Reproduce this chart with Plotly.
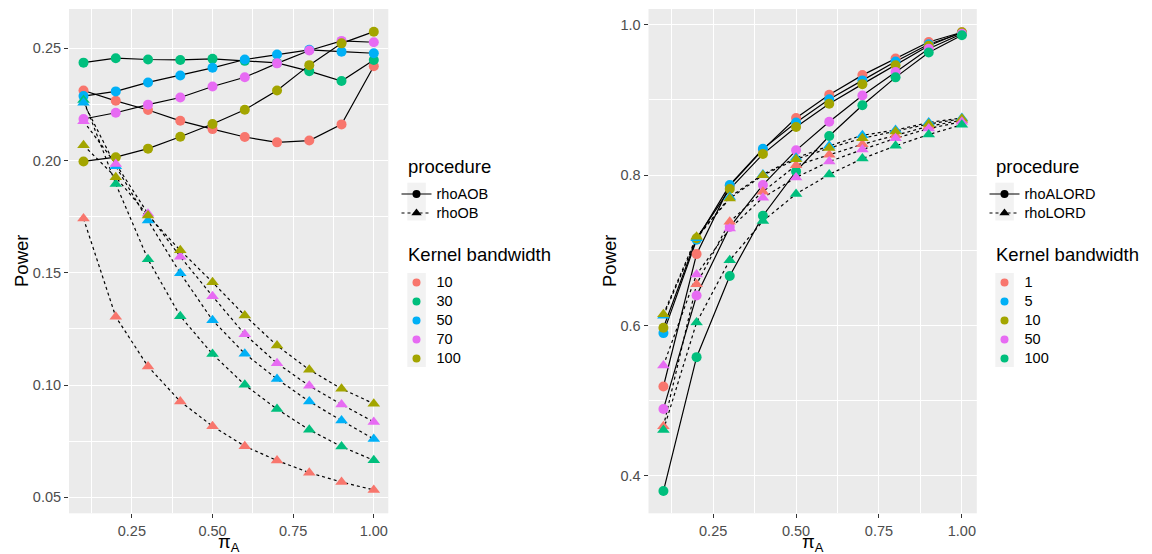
import plotly.graph_objects as go

W, H = 1152, 554

pi_a = [0.1, 0.2, 0.3, 0.4, 0.5, 0.6, 0.7, 0.8, 0.9, 1.0]

# Left panel: Kernel bandwidth 10, 30, 50, 70, 100
left_bw = ["10", "30", "50", "70", "100"]
left_colors = ["#F8766D", "#00BF7D", "#00B0F6", "#E76BF3", "#A3A500"]
rhoAOB = {
    "10":  [0.2312, 0.2266, 0.2225, 0.2177, 0.2140, 0.2105, 0.2081, 0.2089, 0.2161, 0.2420],
    "30":  [0.2436, 0.2456, 0.2450, 0.2448, 0.2453, 0.2444, 0.2435, 0.2398, 0.2354, 0.2448],
    "50":  [0.2287, 0.2308, 0.2348, 0.2379, 0.2413, 0.2450, 0.2472, 0.2493, 0.2485, 0.2478],
    "70":  [0.2185, 0.2213, 0.2249, 0.2281, 0.2330, 0.2371, 0.2433, 0.2490, 0.2533, 0.2527],
    "100": [0.1996, 0.2015, 0.2053, 0.2106, 0.2163, 0.2226, 0.2312, 0.2425, 0.2522, 0.2574],
}
rhoOB = {
    "10":  [0.1742, 0.1304, 0.1083, 0.0927, 0.0817, 0.0728, 0.0664, 0.0610, 0.0568, 0.0533],
    "30":  [0.2270, 0.1896, 0.1560, 0.1307, 0.1138, 0.1001, 0.0893, 0.0801, 0.0726, 0.0665],
    "50":  [0.2258, 0.1975, 0.1733, 0.1498, 0.1289, 0.1140, 0.1027, 0.0927, 0.0842, 0.0760],
    "70":  [0.2175, 0.1985, 0.1763, 0.1572, 0.1396, 0.1226, 0.1097, 0.0997, 0.0914, 0.0836],
    "100": [0.2068, 0.1926, 0.1755, 0.1600, 0.1458, 0.1310, 0.1176, 0.1068, 0.0984, 0.0917],
}

# Right panel: Kernel bandwidth 1, 5, 10, 50, 100
right_bw = ["1", "5", "10", "50", "100"]
right_colors = ["#F8766D", "#00B0F6", "#A3A500", "#E76BF3", "#00BF7D"]
rhoALORD = {
    "1":   [0.519, 0.695, 0.786, 0.834, 0.876, 0.907, 0.933, 0.955, 0.977, 0.990],
    "5":   [0.590, 0.714, 0.787, 0.835, 0.870, 0.901, 0.926, 0.951, 0.974, 0.989],
    "10":  [0.597, 0.716, 0.7815, 0.828, 0.864, 0.895, 0.921, 0.946, 0.972, 0.990],
    "50":  [0.489, 0.640, 0.731, 0.787, 0.833, 0.871, 0.906, 0.937, 0.968, 0.988],
    "100": [0.380, 0.558, 0.666, 0.746, 0.805, 0.852, 0.893, 0.930, 0.963, 0.986],
}
rhoLORD = {
    "1":   [0.466, 0.655, 0.738, 0.778, 0.813, 0.827, 0.841, 0.853, 0.865, 0.873],
    "5":   [0.613, 0.716, 0.771, 0.801, 0.823, 0.839, 0.853, 0.860, 0.870, 0.876],
    "10":  [0.615, 0.718, 0.769, 0.800, 0.821, 0.836, 0.849, 0.858, 0.868, 0.875],
    "50":  [0.547, 0.668, 0.729, 0.770, 0.797, 0.818, 0.834, 0.849, 0.862, 0.871],
    "100": [0.461, 0.604, 0.687, 0.739, 0.775, 0.801, 0.822, 0.839, 0.854, 0.867],
}

FONT = "Liberation Sans, Arial, sans-serif"
TICK_FS = 14.5
TITLE_FS = 18.5
LEG_FS = 14.5

fig = go.Figure()


def add_panel(xa, ya, bws, colors, solid, dotted):
    # lines first (ggplot geom_line), then points on top
    for bw in bws:
        fig.add_trace(go.Scatter(x=pi_a, y=solid[bw], mode="lines", xaxis=xa, yaxis=ya,
                                 line=dict(color="black", width=1.2), showlegend=False,
                                 hoverinfo="skip"))
        fig.add_trace(go.Scatter(x=pi_a, y=dotted[bw], mode="lines", xaxis=xa, yaxis=ya,
                                 line=dict(color="black", width=1.2, dash="dot"), showlegend=False,
                                 hoverinfo="skip"))
    for bw, c in zip(bws, colors):
        fig.add_trace(go.Scatter(x=pi_a, y=solid[bw], mode="markers", xaxis=xa, yaxis=ya,
                                 marker=dict(color=c, size=10, symbol="circle", line=dict(width=0)),
                                 showlegend=False, name=bw))
    for bw, c in zip(bws, colors):
        fig.add_trace(go.Scatter(x=pi_a, y=dotted[bw], mode="markers", xaxis=xa, yaxis=ya,
                                 marker=dict(color=c, size=11, symbol="triangle-up", line=dict(width=0)),
                                 showlegend=False, name=bw))


add_panel("x", "y", left_bw, left_colors, rhoAOB, rhoOB)
add_panel("x2", "y2", right_bw, right_colors, rhoALORD, rhoLORD)


def span(t):
    return '<span style="font-size:%gpx">%s</span>' % (LEG_FS, t)


def add_legends(proc_names, bws, colors, leg_proc, leg_kern):
    fig.add_trace(go.Scatter(x=[None], y=[None], mode="lines+markers", name=span(proc_names[0]),
                             line=dict(color="black", width=1.2),
                             marker=dict(color="black", size=8, symbol="circle"),
                             legend=leg_proc, showlegend=True))
    fig.add_trace(go.Scatter(x=[None], y=[None], mode="lines+markers", name=span(proc_names[1]),
                             line=dict(color="black", width=1.2, dash="dot"),
                             marker=dict(color="black", size=9, symbol="triangle-up"),
                             legend=leg_proc, showlegend=True))
    order = sorted(range(len(bws)), key=lambda i: float(bws[i]))
    for i in order:
        fig.add_trace(go.Scatter(x=[None], y=[None], mode="markers", name=span(bws[i]),
                                 marker=dict(color=colors[i], size=8, symbol="circle"),
                                 legend=leg_kern, showlegend=True))


add_legends(["rhoAOB", "rhoOB"], left_bw, left_colors, "legend", "legend2")
add_legends(["rhoALORD", "rhoLORD"], right_bw, right_colors, "legend3", "legend4")

axis_common = dict(
    showgrid=True, gridcolor="white", gridwidth=1.1,
    zeroline=False, showline=False,
    ticks="outside", ticklen=4, tickwidth=1.1, tickcolor="#333333",
    tickfont=dict(family=FONT, size=TICK_FS, color="#4D4D4D"),
)

xrange = [0.055, 1.045]
xl = dict(axis_common, range=xrange, tickmode="linear", tick0=0, dtick=0.25, tickformat=".2f",
          minor=dict(tick0=0, dtick=0.125, showgrid=True, gridcolor="white", gridwidth=0.55, ticks=""))

L0, L1 = 69 / W, 388.3 / W
R0, R1 = 648.5 / W, 976.8 / W
YB, YT = 1 - 513.3 / H, 1 - 9 / H

fig.update_layout(
    width=W, height=H,
    margin=dict(l=0, r=0, t=0, b=0),
    paper_bgcolor="white", plot_bgcolor="#EBEBEB",
    font=dict(family=FONT),
    xaxis=dict(xl, domain=[L0, L1], anchor="y"),
    xaxis2=dict(xl, domain=[R0, R1], anchor="y2"),
    yaxis=dict(axis_common, domain=[YB, YT], anchor="x", range=[0.0429, 0.2675],
               tickmode="linear", tick0=0, dtick=0.05, tickformat=".2f",
               minor=dict(tick0=0, dtick=0.025, showgrid=True, gridcolor="white", gridwidth=0.55, ticks="")),
    yaxis2=dict(axis_common, domain=[YB, YT], anchor="x2", range=[0.3504, 1.0209],
                tickmode="linear", tick0=0, dtick=0.2, tickformat=".1f",
                minor=dict(tick0=0, dtick=0.1, showgrid=True, gridcolor="white", gridwidth=0.55, ticks="")),
    showlegend=True,
)

leg_common = dict(bgcolor="rgba(0,0,0,0)", borderwidth=0, xanchor="left", yanchor="top",
                  font=dict(family=FONT, size=12.2, color="black"), itemwidth=30,
                  itemclick=False, itemdoubleclick=False, tracegroupgap=0)
fig.update_layout(
    legend=dict(leg_common, x=396.5 / W, y=1 - 179.5 / H),
    legend2=dict(leg_common, x=396.5 / W, y=1 - 268 / H),
    legend3=dict(leg_common, x=984.5 / W, y=1 - 179.5 / H),
    legend4=dict(leg_common, x=984.5 / W, y=1 - 268 / H),
)

# grey legend key backgrounds (ggplot style)
shapes = []
for kx in (407.3, 995.3):
    shapes.append(dict(type="rect", xref="paper", yref="paper", layer="below",
                       x0=kx / W, x1=(kx + 18.5) / W, y0=1 - 220.5 / H, y1=1 - 182.7 / H,
                       fillcolor="#F2F2F2", line=dict(width=0)))
    shapes.append(dict(type="rect", xref="paper", yref="paper", layer="below",
                       x0=kx / W, x1=(kx + 18.5) / W, y0=1 - 367 / H, y1=1 - 273 / H,
                       fillcolor="#F2F2F2", line=dict(width=0)))
fig.update_layout(shapes=shapes)

ann = []
for cx in (228.6, 812.6):
    ann.append(dict(text="π<sub>A</sub>", x=cx / W, y=1 - 542.5 / H, xref="paper", yref="paper",
                    showarrow=False, xanchor="center", yanchor="middle",
                    font=dict(family=FONT, size=TITLE_FS, color="black")))
for cx in (21, 609):
    ann.append(dict(text="Power", x=cx / W, y=1 - 261 / H, xref="paper", yref="paper",
                    showarrow=False, xanchor="center", yanchor="middle", textangle=-90,
                    font=dict(family=FONT, size=TITLE_FS, color="black")))
for lx in (406, 994):
    ann.append(dict(text="procedure", x=lx / W, y=1 - 166 / H, xref="paper", yref="paper",
                    showarrow=False, xanchor="left", yanchor="middle",
                    font=dict(family=FONT, size=TITLE_FS, color="black")))
    ann.append(dict(text="Kernel bandwidth", x=lx / W, y=1 - 254 / H, xref="paper", yref="paper",
                    showarrow=False, xanchor="left", yanchor="middle",
                    font=dict(family=FONT, size=TITLE_FS, color="black")))
fig.update_layout(annotations=ann)

fig.write_html("out.html", post_script="document.body.style.margin='0px';",
               config={"displayModeBar": False})
